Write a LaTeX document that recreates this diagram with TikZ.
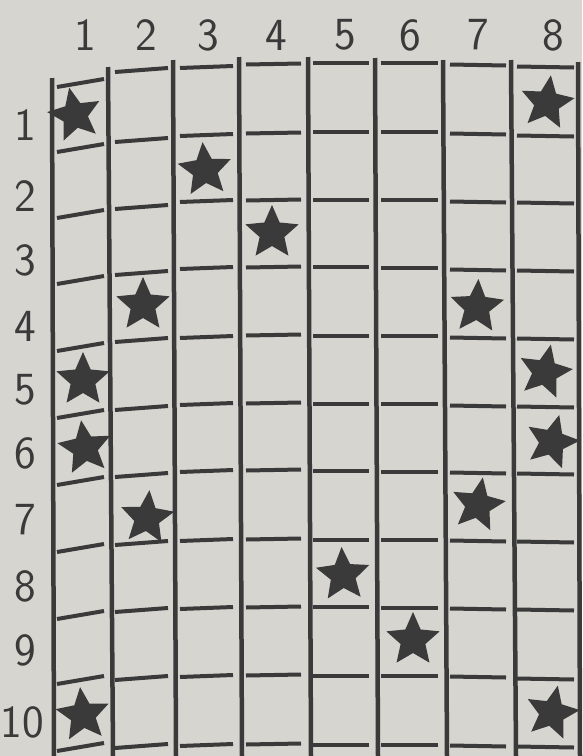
\documentclass[tikz,border=0pt]{standalone}
\usetikzlibrary{shapes.geometric}
\definecolor{paper}{RGB}{214,213,208}
\definecolor{ink}{RGB}{58,58,58}
\tikzset{
 gridline/.style={draw=ink, line width=4.5pt},
 cellline/.style={draw=ink, line width=4pt},
 starmark/.style={star, star points=5, star point ratio=2.15, fill=ink, draw=none, inner sep=0pt, minimum size=56pt},
 lbl/.style={text=ink, font=\sffamily\fontsize{46}{46}\selectfont, inner sep=0pt}
}
\begin{document}
\begin{tikzpicture}[x=1pt,y=-1pt]
\fill[paper] (0,0) rectangle (582,756);
\useasboundingbox (0,0) rectangle (582,756);
% vertical lines
\foreach \xt/\xb/\yt [count=\i] in {52/54/78, 108/113/67, 173/176/60, 239/242/57, 308/311/57, 375/378/58, 443/447/60, 511/516/60, 578/580/62} {
  \coordinate (vt\i) at (\xt,\yt);
  \coordinate (vb\i) at (\xb,756);
  \draw[gridline] (vt\i) -- (vb\i);
}
% horizontal cell lines per column
\foreach \xl/\xr/\s/\ys [count=\c] in {
  57/104/8/{83,148,214,280,347,414,481,548,615,680,747},
  115/168/4/{70,140,207,273,340,408,475,543,610,678,746},
  180/233/2/{67,135,201,268,337,404,471,540,608,676,745},
  246/301/1/{64,133,200,267,335,403,470,539,607,675,744},
  313/369/0/{63,132,200,267,336,404,471,540,607,676,745},
  381/438/0/{63,132,200,268,336,404,472,540,608,676,745},
  450/506/-1/{65,134,202,270,338,406,473,541,609,677,746},
  517/574/-1/{67,136,203,271,339,407,474,542,610,679,747}} {
  \foreach \y [count=\r] in \ys {
    \coordinate (hl\c-\r) at ({\xl},{\y+\s/2});
    \coordinate (hr\c-\r) at ({\xr},{\y-\s/2});
    \draw[cellline] (hl\c-\r) -- (hr\c-\r);
  }
}
% column labels
\foreach \x/\t [count=\i] in {85/1,146/2,208/3,276/4,345/5,410/6,478/7,553/8} {
  \node[lbl] (col\i) at (\x,35) {\t};
}
% row labels
\foreach \x/\y/\t [count=\i] in {25/125/1,25/196/2,25/260/3,25/326/4,25/390/5,25/453/6,25/520/7,25/586/8,25/650/9,22/722/10} {
  \node[lbl] (row\i) at (\x,\y) {\t};
}
% stars
\foreach \x/\y/\a [count=\i] in {
  75/115/12, 547/103/-8, 205/170/5, 272/233/0, 143/305/0, 477/307/-3,
  83/380/0, 545/372/-12, 85/448/8, 552/442/-15, 147/518/-5, 478/505/-10,
  343/575/3, 413/640/0, 83/715/6, 552/713/-12} {
  \node[starmark, rotate=\a] (star\i) at (\x,\y) {};
}
\end{tikzpicture}
\end{document}
